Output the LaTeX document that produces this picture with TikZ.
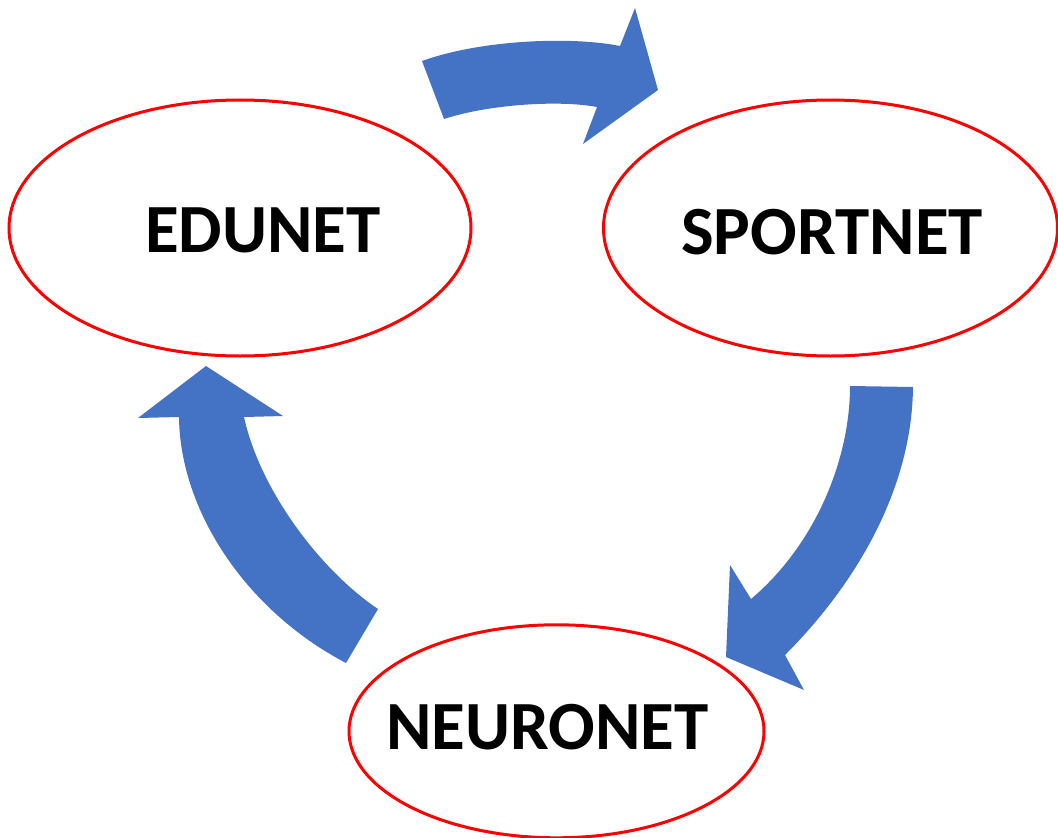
\documentclass[tikz,border=0pt]{standalone}
\usepackage{fontspec}
\setmainfont{Carlito}
\usetikzlibrary{shapes.geometric}
\definecolor{arrowblue}{HTML}{4472C4}

\begin{document}
\begin{tikzpicture}[x=1pt,y=-1pt,
    netring/.style={ellipse,draw=red,line width=3pt,fill=white,inner sep=0pt},
    netname/.style={font=\fontsize{69}{80}\selectfont\bfseries,inner sep=0pt,anchor=center},
    bigarrow/.style={fill=arrowblue}]
    \useasboundingbox (0,0) rectangle (1058,838);

    \node[netring,minimum width=462pt,minimum height=256pt] (edu) at (240,228) {};
    \node[netring,minimum width=454pt,minimum height=256pt] (sport) at (830.5,228) {};
    \node[netring,minimum width=415pt,minimum height=213pt] (neuro) at (556.5,731.3) {};

    \node[netname] (edutext) at (263,230) {EDUNET};
    \node[netname] (sporttext) at (832,232) {SPORTNET};
    \node[netname] (neurotext) at (547.5,727) {NEURONET};

    % edunet -> sportnet
    \fill[bigarrow] (422,61) .. controls (480,40) and (570,36) .. (620,46)
        -- (635,8) -- (658,90) -- (583,144) -- (597,107)
        .. controls (560,100) and (490,104) .. (444,119) -- cycle;
    % sportnet -> neuronet
    \fill[bigarrow] (850,386) -- (913,387) .. controls (912,490) and (855,585) .. (785,655)
        -- (804,690) -- (726,657) -- (730,565) -- (751,599)
        .. controls (815,545) and (850,460) .. (850,386) -- cycle;
    % neuronet -> edunet
    \fill[bigarrow] (346,663) .. controls (245,610) and (180,510) .. (179,417)
        -- (138,418) -- (206,366) -- (283,416) -- (244,417)
        .. controls (260,490) and (320,570) .. (378,609) -- cycle;
\end{tikzpicture}
\end{document}
